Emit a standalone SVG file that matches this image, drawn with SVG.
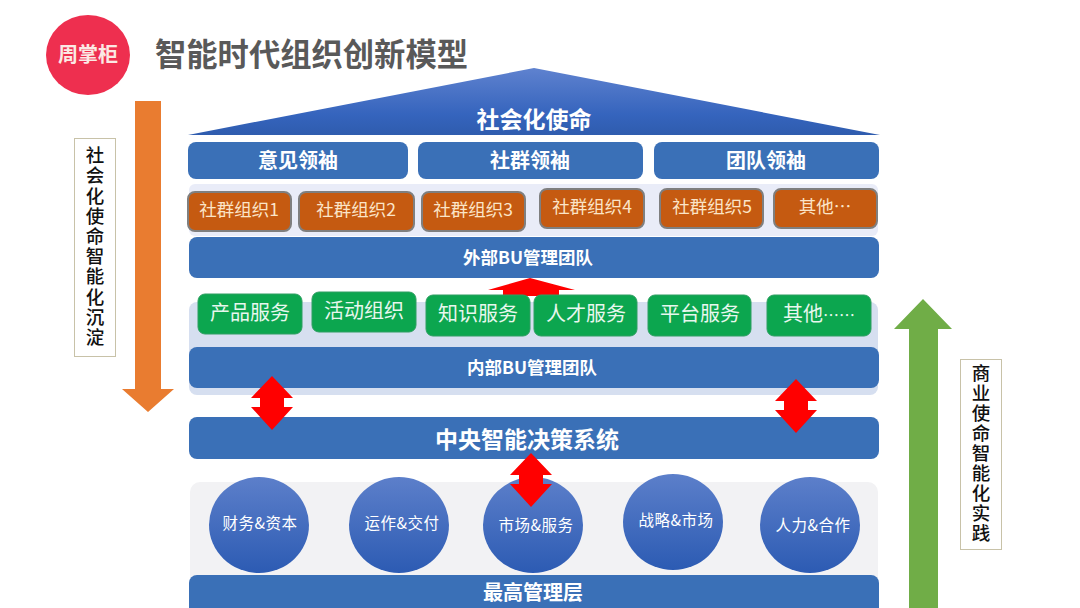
<svg xmlns="http://www.w3.org/2000/svg" width="1080" height="608" viewBox="0 0 1080 608">
<style>
text{font-family:"Noto Sans CJK SC","Liberation Sans",sans-serif;text-anchor:middle}
.bar{fill:#3a70b7}
.w{fill:#fff;font-weight:700}
.org{fill:#c55a11;stroke:#7f7f7f;stroke-width:2}
.org-t{fill:#fbe5c8;font-size:17.500px}
.grn{fill:#0ca64f;stroke:#2f9e62;stroke-width:1}
.grn-t{fill:#e8f7ee;font-size:20px}
.cir{fill:url(#cg)}
.cir-t{fill:#fff;font-size:15.500px;letter-spacing:.5px}
.side{fill:#fff;stroke:#c8c2a8;stroke-width:1}
text.side-t{fill:#111;font-size:18.500px;font-weight:500;writing-mode:vertical-rl;text-anchor:start}
.red{fill:#f00}
</style>
<defs>
<linearGradient id="rg" x1="0" y1="0" x2="0" y2="1"><stop offset="0" stop-color="#5f82cf"/><stop offset=".7" stop-color="#3564bd"/><stop offset="1" stop-color="#2f5cae"/></linearGradient>
<linearGradient id="cg" x1="0" y1="0" x2="0" y2="1"><stop offset="0" stop-color="#5c7fca"/><stop offset="1" stop-color="#2c5bb3"/></linearGradient>
<path id="dbl" d="M0-27 21-5H12V4H21L0 27-21 4H-12V-5H-21Z"/>
</defs>
<rect width="1080" height="608" fill="#fff"/>

<g id="logo"><ellipse cx="88" cy="55" rx="42" ry="40" fill="#ee2f4f"/><text x="88" y="62" font-size="20" font-weight="700" fill="#fbe9e4">周掌柜</text></g>
<g id="title"><text x="311.500" y="66" font-size="31.300" font-weight="700" fill="#595959">智能时代组织创新模型</text></g>

<g id="bands">
<rect x="189" y="184" width="689" height="52" rx="6" fill="#e9ecf8"/>
<rect x="189" y="302" width="689" height="93" rx="8" fill="#d6dff0"/>
<rect x="190" y="482" width="688" height="103" rx="10" fill="#f2f2f4"/>
</g>

<g id="roof"><polygon points="188,135 534,68 880,135" fill="url(#rg)"/><text x="534" y="128" font-size="23" class="w">社会化使命</text></g>

<g id="leader1"><rect class="bar" x="188" y="142" width="220" height="37" rx="8"/><text class="w" x="298" y="168" font-size="20">意见领袖</text></g>
<g id="leader2"><rect class="bar" x="418" y="142" width="225" height="37" rx="8"/><text class="w" x="530" y="168" font-size="20">社群领袖</text></g>
<g id="leader3"><rect class="bar" x="654" y="142" width="225" height="37" rx="8"/><text class="w" x="766" y="168" font-size="20">团队领袖</text></g>

<g id="org1"><rect class="org" x="188" y="192" width="103" height="39" rx="7"/><text class="org-t" x="239" y="216">社群组织1</text></g>
<g id="org2"><rect class="org" x="299" y="192" width="115" height="39" rx="7"/><text class="org-t" x="356" y="216">社群组织2</text></g>
<g id="org3"><rect class="org" x="422" y="192" width="103" height="39" rx="7"/><text class="org-t" x="473" y="216">社群组织3</text></g>
<g id="org4"><rect class="org" x="540" y="189" width="104" height="39" rx="7"/><text class="org-t" x="592" y="213">社群组织4</text></g>
<g id="org5"><rect class="org" x="660" y="189" width="103" height="39" rx="7"/><text class="org-t" x="712" y="213">社群组织5</text></g>
<g id="org6"><rect class="org" x="774" y="189" width="103" height="39" rx="7"/><text class="org-t" x="825" y="213">其他…</text></g>

<g id="ext"><rect class="bar" x="189" y="237" width="690" height="41" rx="8"/><text class="w" x="528" y="264" font-size="17.500">外部BU管理团队</text></g>

<polygon class="red" points="530,278 575,290 559,290 559,296 503,296 503,290 488,290"/>

<g id="svc1"><rect class="grn" x="198" y="294" width="104" height="40" rx="7"/><text class="grn-t" x="250" y="320">产品服务</text></g>
<g id="svc2"><rect class="grn" x="312" y="292" width="104" height="40" rx="7"/><text class="grn-t" x="364" y="318">活动组织</text></g>
<g id="svc3"><rect class="grn" x="426" y="295" width="104" height="41" rx="7"/><text class="grn-t" x="478" y="321">知识服务</text></g>
<g id="svc4"><rect class="grn" x="534" y="295" width="103" height="41" rx="7"/><text class="grn-t" x="586" y="321">人才服务</text></g>
<g id="svc5"><rect class="grn" x="648" y="295" width="103" height="41" rx="7"/><text class="grn-t" x="700" y="321">平台服务</text></g>
<g id="svc6"><rect class="grn" x="767" y="295" width="104" height="41" rx="7"/><text class="grn-t" x="819" y="321">其他<tspan font-size="16">……</tspan></text></g>

<g id="int"><rect class="bar" x="189" y="347" width="690" height="41" rx="8"/><text class="w" x="532" y="374" font-size="17.500">内部BU管理团队</text></g>
<g id="center"><rect class="bar" x="189" y="417" width="690" height="42" rx="8"/><text class="w" x="527" y="448" font-size="23">中央智能决策系统</text></g>

<g id="c1"><ellipse class="cir" cx="259" cy="525" rx="50" ry="48"/><text class="cir-t" x="260" y="529">财务&amp;资本</text></g>
<g id="c2"><ellipse class="cir" cx="399" cy="525" rx="50" ry="48"/><text class="cir-t" x="402" y="529">运作&amp;交付</text></g>
<g id="c3"><ellipse class="cir" cx="533" cy="525" rx="50" ry="48"/><text class="cir-t" x="536" y="531">市场&amp;服务</text></g>
<g id="c4"><ellipse class="cir" cx="673" cy="522" rx="50" ry="48"/><text class="cir-t" x="676" y="526">战略&amp;市场</text></g>
<g id="c5"><ellipse class="cir" cx="810" cy="525" rx="50" ry="48"/><text class="cir-t" x="813" y="531">人力&amp;合作</text></g>

<g id="top"><rect class="bar" x="189" y="575" width="690" height="44" rx="8"/><text class="w" x="533" y="600" font-size="20">最高管理层</text></g>

<g id="connectors">
<use href="#dbl" class="red" x="272" y="403"/>
<use href="#dbl" class="red" x="796" y="406"/>
<use href="#dbl" class="red" x="531" y="480"/>
<polygon fill="#e97c30" points="135,101 161,101 161,389 174,389 148,412 122,389 135,389"/>
<polygon fill="#70ad47" points="923,299 952,329 938,329 938,608 909,608 909,329 894,329"/>
</g>

<g id="left-label"><rect class="side" x="74.500" y="138.500" width="41" height="218"/>
<text class="side-t" x="95" y="146" letter-spacing="1.700">社会化使命智能化沉淀</text></g>
<g id="right-label"><rect class="side" x="960.500" y="359.500" width="41" height="190"/>
<text class="side-t" x="981" y="364" letter-spacing="1.500">商业使命智能化实践</text></g>
</svg>
